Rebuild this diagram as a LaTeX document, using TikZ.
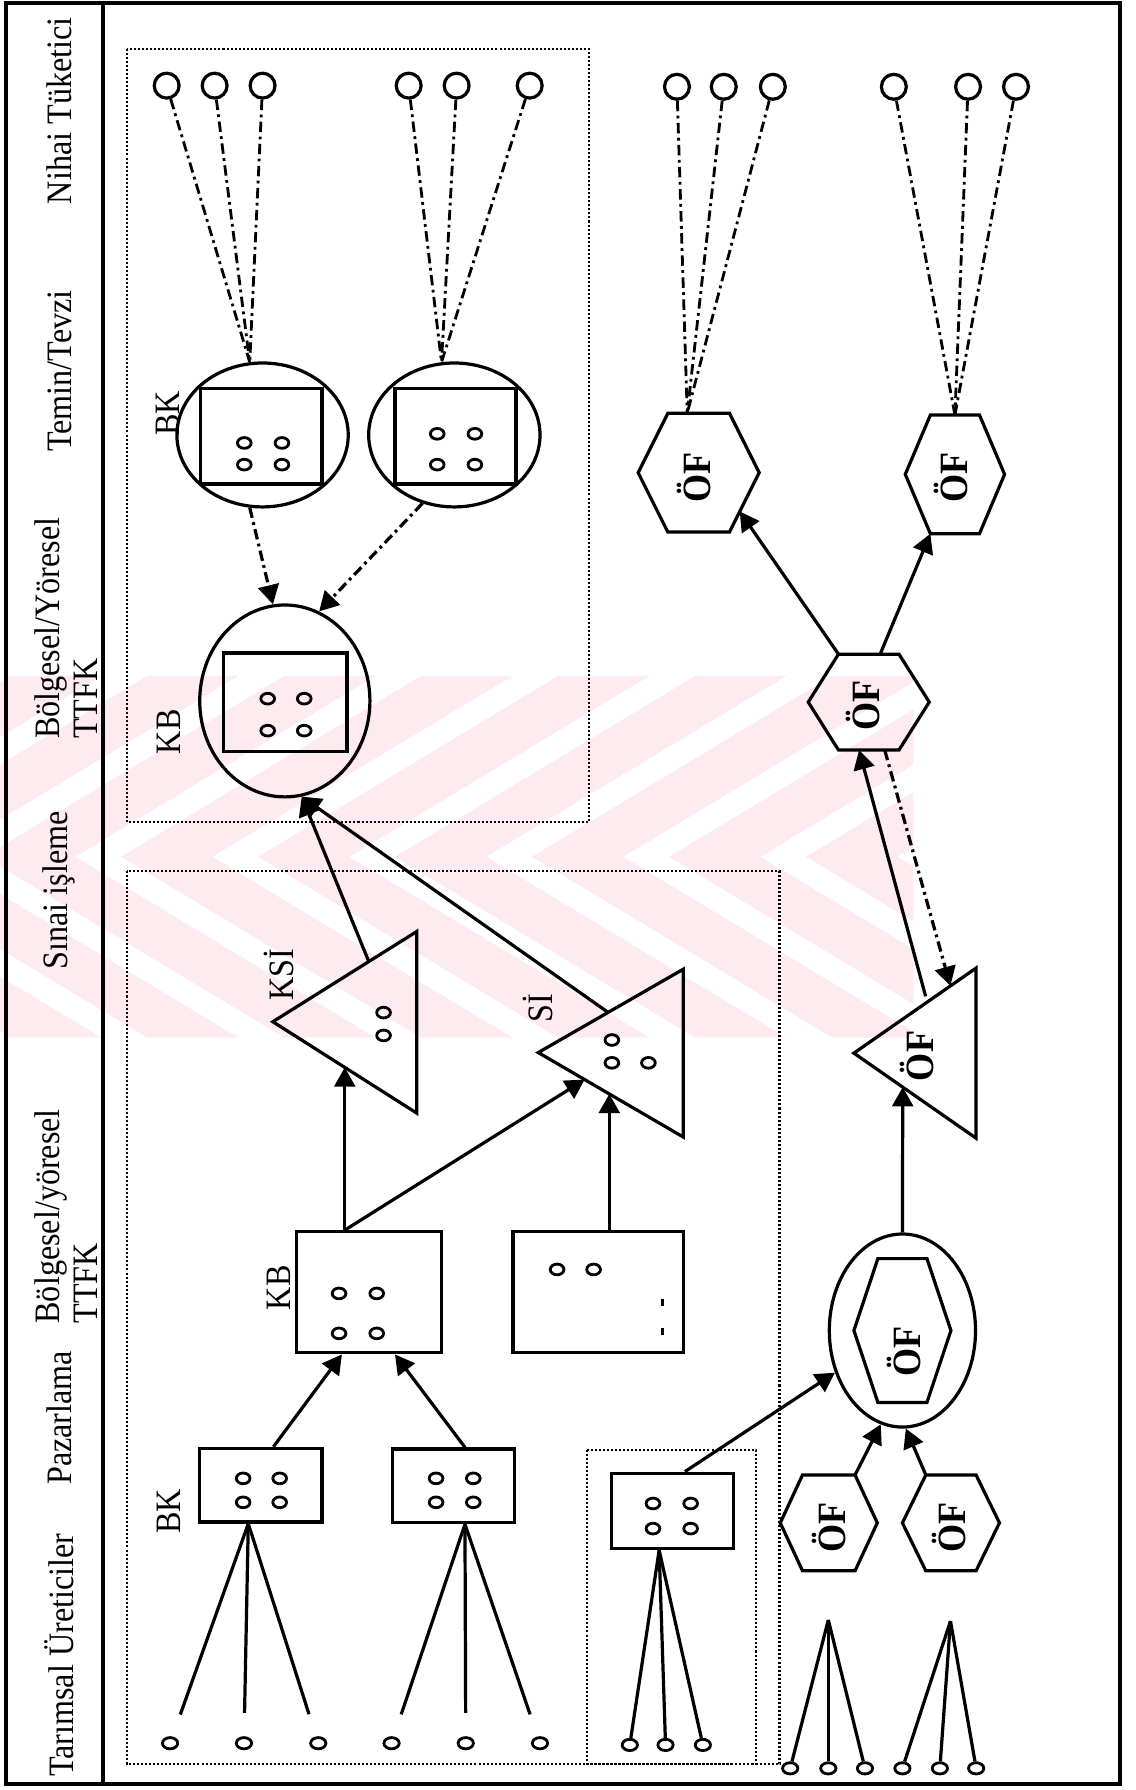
\documentclass[tikz,border=0pt]{standalone}
\usepackage{fontspec}
\setmainfont[FakeStretch=0.9]{Liberation Serif}
\usepackage{tikz}
\usetikzlibrary{shapes,arrows.meta,positioning,calc}

\definecolor{wmpink}{RGB}{253,235,239}

\tikzset{
  frame/.style={line width=1pt},
  group/.style={draw, line width=0.6pt, dash pattern=on 0.5pt off 0.5pt},
  unit/.style={draw, line width=0.8pt, inner sep=0},
  outline/.style={line width=0.8pt},
  pip/.style={draw, ellipse, line width=0.7pt, minimum width=3.8pt, minimum height=2.8pt, inner sep=0},
  pipmark/.style={line width=0.7pt},
  consumer/.style={draw, circle, line width=0.8pt, minimum size=6.2pt, inner sep=0},
  flow/.style={line width=0.8pt, -{Triangle[length=4.8pt,width=5.2pt]}},
  dashdot/.style={dash pattern=on 2.6pt off 1.1pt on 0.7pt off 1.1pt},
  supply/.style={line width=0.7pt, dashdot},
  feed/.style={line width=0.8pt},
  colhead/.style={rotate=90, inner sep=0, font=\fontsize{8.9}{9.3}\selectfont},
  lbl/.style={rotate=90, inner sep=0, font=\fontsize{8.9}{9.3}\selectfont},
  oflbl/.style={rotate=90, inner sep=0, font=\fontsize{10}{11}\selectfont\bfseries},
}

\begin{document}
\begin{tikzpicture}[x=0.01cm, y=-0.01cm]
\useasboundingbox (0,0) rectangle (995,1568);

% faint pink chevrons behind the middle of the page
\begin{scope}
\clip (0,592) rectangle (800,909);
\foreach \a in {-254,-134,...,706} {
  \fill[wmpink] (\a,750.5) -- ++(263,-158.5) -- ++(80,0) -- ++(-263,158.5)
    -- ++(263,158.5) -- ++(-80,0) -- cycle;
}
\end{scope}

% page frame with the stage column on the left
\draw[frame] (5,3) rectangle (981,1563);
\draw[frame] (90.5,3) -- (90.5,1563);

\node[colhead] (hNT) at (52,97) {Nihai Tüketici};
\node[colhead] (hTT) at (52,325) {Temin/Tevzi};
\node[colhead, align=left, anchor=west] (hBY) at (58,648) {Bölgesel/Yöresel\\TTFK};
\node[colhead] (hSI) at (52,780) {Sınai işleme};
\node[colhead, align=left, anchor=west] (hBy) at (58,1160) {Bölgesel/yöresel\\TTFK};
\node[colhead] (hPZ) at (52,1242) {Pazarlama};
\node[colhead] (hTU) at (52,1450) {Tarımsal Üreticiler};

% dotted groupings
\draw[group] (111,43) rectangle (516,720);
\draw[group] (111,763) rectangle (683,1545);
\draw[group] (514,1270) rectangle (662,1545);

%============ consumers
\node[consumer] (c1) at (146,75) {};
\node[consumer] (c2) at (188,75) {};
\node[consumer] (c3) at (230,75) {};
\node[consumer] (c4) at (358,75) {};
\node[consumer] (c5) at (400,75) {};
\node[consumer] (c6) at (464,75) {};
\node[consumer] (c7) at (593,76) {};
\node[consumer] (c8) at (634,76) {};
\node[consumer] (c9) at (677,76) {};
\node[consumer] (c10) at (783,76) {};
\node[consumer] (c11) at (848,76) {};
\node[consumer] (c12) at (890,76) {};

%============ BK -> KB (upper box)
\node[unit, ellipse, minimum width=1.5cm, minimum height=1.26cm] (bk1) at (230,381) {};
\node[unit, minimum width=1.06cm, minimum height=0.84cm] (bk1r) at (229,382) {};
\node[unit, ellipse, minimum width=1.5cm, minimum height=1.26cm] (bk2) at (398,381) {};
\node[unit, minimum width=1.06cm, minimum height=0.84cm] (bk2r) at (399,382) {};
\node[unit, ellipse, minimum width=1.49cm, minimum height=1.68cm] (kb) at (249.5,614) {};
\node[unit, minimum width=1.08cm, minimum height=0.86cm] (kbr) at (250,615) {};
\node[lbl] (lBK1) at (147,362) {BK};
\node[lbl] (lKB1) at (147.5,641) {KB};

\draw[pipmark] (214,388) circle [x radius=6, y radius=4.7];
\draw[pipmark] (247,388) circle [x radius=6, y radius=4.7];
\draw[pipmark] (214,407) circle [x radius=6, y radius=4.7];
\draw[pipmark] (247,407) circle [x radius=6, y radius=4.7];
\draw[pipmark] (383,380) circle [x radius=6, y radius=4.7];
\draw[pipmark] (416,380) circle [x radius=6, y radius=4.7];
\draw[pipmark] (383,407) circle [x radius=6, y radius=4.7];
\draw[pipmark] (416,407) circle [x radius=6, y radius=4.7];
\draw[pipmark] (234.5,612) circle [x radius=6, y radius=4.7];
\draw[pipmark] (266.5,612) circle [x radius=6, y radius=4.7];
\draw[pipmark] (234.5,640) circle [x radius=6, y radius=4.7];
\draw[pipmark] (266.5,640) circle [x radius=6, y radius=4.7];

\draw[supply] (c1) -- (bk1.100);
\draw[supply] (c2) -- (bk1.100);
\draw[supply] (c3) -- (bk1.100);
\draw[supply] (c4) -- (bk2.100);
\draw[supply] (c5) -- (bk2.100);
\draw[supply] (c6) -- (bk2.100);
\draw[flow, dashdot] (bk1.-100) -- (kb.97);
\draw[flow, dashdot] (bk2.-115) -- (kb.69);

%============ processing (lower left box)
\coordinate (ksiA) at (239,895);
\coordinate (ksiT) at (365,816);
\coordinate (ksiB) at (365,975);
\draw[outline] (ksiA) -- (ksiT) -- (ksiB) -- cycle;
\node[lbl] (lKSI) at (244,854) {KSİ};
\draw[pipmark] (336,887) circle [x radius=6, y radius=4.7];
\draw[pipmark] (336,907) circle [x radius=6, y radius=4.7];

\coordinate (siA) at (471.5,922);
\coordinate (siT) at (598.5,849);
\coordinate (siB) at (598.5,996);
\draw[outline] (siA) -- (siT) -- (siB) -- cycle;
\node[lbl] (lSI) at (471,883) {Sİ};
\draw[pipmark] (536,911) circle [x radius=6, y radius=4.7];
\draw[pipmark] (536,931) circle [x radius=6, y radius=4.7];
\draw[pipmark] (568,931) circle [x radius=6, y radius=4.7];

\node[unit, minimum width=1.27cm, minimum height=1.06cm] (kbp) at (323.5,1132) {};
\node[lbl] (lKB2) at (244,1128) {KB};
\draw[pipmark] (297,1133) circle [x radius=6, y radius=4.7];
\draw[pipmark] (330,1133) circle [x radius=6, y radius=4.7];
\draw[pipmark] (297,1168) circle [x radius=6, y radius=4.7];
\draw[pipmark] (330,1168) circle [x radius=6, y radius=4.7];

\node[unit, minimum width=1.49cm, minimum height=1.06cm] (sip) at (524,1132) {};
\draw[pipmark] (488,1112) circle [x radius=6, y radius=4.7];
\draw[pipmark] (520,1112) circle [x radius=6, y radius=4.7];
\draw[pipmark] (580,1138) -- (580,1144);
\draw[pipmark] (580,1163) -- (580,1169);

\node[unit, minimum width=1.07cm, minimum height=0.645cm] (bkp1) at (228.5,1301) {};
\node[unit, minimum width=1.07cm, minimum height=0.645cm] (bkp2) at (397.3,1301.5) {};
\node[unit, minimum width=1.07cm, minimum height=0.66cm] (bkp3) at (589,1323.5) {};
\node[lbl] (lBK2) at (147.5,1324) {BK};
\draw[pipmark] (213,1295) circle [x radius=6, y radius=4.7];
\draw[pipmark] (245,1295) circle [x radius=6, y radius=4.7];
\draw[pipmark] (213,1316) circle [x radius=6, y radius=4.7];
\draw[pipmark] (245,1316) circle [x radius=6, y radius=4.7];
\draw[pipmark] (382,1295) circle [x radius=6, y radius=4.7];
\draw[pipmark] (414.6,1295) circle [x radius=6, y radius=4.7];
\draw[pipmark] (382,1316) circle [x radius=6, y radius=4.7];
\draw[pipmark] (414.6,1316) circle [x radius=6, y radius=4.7];
\draw[pipmark] (572,1317) circle [x radius=6, y radius=4.7];
\draw[pipmark] (605,1317) circle [x radius=6, y radius=4.7];
\draw[pipmark] (572,1339) circle [x radius=6, y radius=4.7];
\draw[pipmark] (605,1339) circle [x radius=6, y radius=4.7];

% attach points
\coordinate (ksi-in) at ($(ksiA)!0.5!(ksiB)$);
\coordinate (ksi-out) at ($(ksiA)!0.667!(ksiT)$);
\coordinate (si-in1) at ($(siA)!0.32!(siB)$);
\coordinate (si-in2) at ($(siA)!0.49!(siB)$);
\coordinate (si-out) at ($(siA)!0.482!(siT)$);
\coordinate (bkp1-up) at ($(bkp1.north)+(11,0)$);
\coordinate (bkp2-up) at ($(bkp2.north)+(10,0)$);
\coordinate (kbp-in1) at ($(kbp.south)+(-24,0)$);
\coordinate (kbp-in2) at ($(kbp.south)+(22.5,0)$);
\coordinate (bkp1-dn) at ($(bkp1.south)+(-11,0)$);
\coordinate (bkp2-dn) at ($(bkp2.south)+(10,0)$);
\coordinate (bkp3-dn) at ($(bkp3.south)+(-11.6,0)$);
\coordinate (bkp3-up) at ($(bkp3.north)+(11,0)$);

\draw[flow] (bkp1-up) -- (kbp-in1);
\draw[flow] (bkp2-up) -- (kbp-in2);
\draw[flow] (kbp.north -| ksi-in) -- (ksi-in);
\draw[flow] (kbp.north -| ksi-in) -- (si-in1);
\draw[flow] (sip.north -| si-in2) -- (si-in2);
\draw[flow] (ksi-out) -- (kb.-80);
\draw[flow] (si-out) -- (kb.-80);

%============ producers
\node[pip] (p1) at (149,1527) {};
\node[pip] (p2) at (213.7,1527) {};
\node[pip] (p3) at (278.8,1527) {};
\node[pip] (p4) at (343,1527) {};
\node[pip] (p5) at (408,1527) {};
\node[pip] (p6) at (473,1527) {};
\node[pip] (p7) at (551.7,1528.5) {};
\node[pip] (p8) at (583,1528.5) {};
\node[pip] (p9) at (615.7,1528.5) {};
\node[pip] (p10) at (692.2,1549) {};
\node[pip] (p11) at (725.6,1549) {};
\node[pip] (p12) at (757.7,1549) {};
\node[pip] (p13) at (790.5,1549) {};
\node[pip] (p14) at (823.3,1549) {};
\node[pip] (p15) at (855.1,1549) {};

\draw[feed, shorten >=5.8pt] (bkp1-dn) -- (p1);
\draw[feed, shorten >=5.8pt] (bkp1-dn) -- (p2);
\draw[feed, shorten >=5.8pt] (bkp1-dn) -- (p3);
\draw[feed, shorten >=5.8pt] (bkp2-dn) -- (p4);
\draw[feed, shorten >=5.8pt] (bkp2-dn) -- (p5);
\draw[feed, shorten >=5.8pt] (bkp2-dn) -- (p6);
\draw[feed] (bkp3-dn) -- (p7);
\draw[feed] (bkp3-dn) -- (p8);
\draw[feed] (bkp3-dn) -- (p9);

%============ retail chain (right side)
\coordinate (hexA) at (612,414);
\coordinate (hexB) at (836.5,415.5);
\coordinate (hexM) at (761,615);
\draw[outline] (hexA) ++(-53,0) -- ++(26,-52) -- ++(54,0) -- ++(26,52) -- ++(-26,52) -- ++(-54,0) -- cycle;
\draw[outline] (hexB) ++(-43.5,0) -- ++(22,-52) -- ++(43,0) -- ++(22,52) -- ++(-22,52) -- ++(-43,0) -- cycle;
\draw[outline] (hexM) ++(-53,0) -- ++(26.5,-42) -- ++(53,0) -- ++(26.5,42) -- ++(-26.5,42) -- ++(-53,0) -- cycle;
\node[oflbl] (ofA) at (608,418) {ÖF};
\node[oflbl] (ofB) at (833,418) {ÖF};
\node[oflbl] (ofM) at (756,618) {ÖF};

\coordinate (oftA) at (748,922.5);
\coordinate (oftT) at (855,848);
\coordinate (oftB) at (855,997);
\draw[outline] (oftA) -- (oftT) -- (oftB) -- cycle;
\node[oflbl] (ofT) at (803.5,925) {ÖF};

\node[unit, ellipse, minimum width=1.28cm, minimum height=1.69cm] (ofe) at (790.5,1165.5) {};
\draw[outline] (ofe.center) ++(-42.5,0) -- ++(21,-63) -- ++(43,0) -- ++(21,63) -- ++(-21,63) -- ++(-43,0) -- cycle;
\node[oflbl] (ofE) at (792,1184) {ÖF};

\coordinate (hexP) at (726,1334);
\coordinate (hexQ) at (833,1334);
\draw[outline] (hexP) ++(-42.5,0) -- ++(19.5,-42) -- ++(46,0) -- ++(19.5,42) -- ++(-19.5,42) -- ++(-46,0) -- cycle;
\draw[outline] (hexQ) ++(-42.5,0) -- ++(20.5,-42) -- ++(44,0) -- ++(20.5,42) -- ++(-20.5,42) -- ++(-44,0) -- cycle;
\node[oflbl] (ofP) at (726,1338) {ÖF};
\node[oflbl] (ofQ) at (831,1338) {ÖF};

% attach points
\coordinate (hexA-top) at ($(hexA)+(-10,-52)$);
\coordinate (hexB-top) at ($(hexB)+(0,-52)$);
\coordinate (hexA-in) at ($(hexA)+(36,34)$);
\coordinate (hexB-in) at ($(hexB)+(-21.5,52)$);
\coordinate (hexM-out1) at ($(hexM)+(-26.5,-42)$);
\coordinate (hexM-out2) at ($(hexM)+(10,-42)$);
\coordinate (hexM-in) at ($(hexM)+(-8.5,42)$);
\coordinate (hexM-back) at ($(hexM)+(14,42)$);
\coordinate (oft-out) at ($(oftA)!0.6!(oftT)$);
\coordinate (oft-back) at ($(oftA)!0.79!(oftT)$);
\coordinate (oft-in) at ($(oftA)!0.4!(oftB)$);
\coordinate (hexP-up) at ($(hexP)+(23,-42)$);
\coordinate (hexQ-up) at ($(hexQ)+(-22,-42)$);
\coordinate (fanP) at (725.6,1419);
\coordinate (fanQ) at (832.6,1420);

\draw[supply] (c7) -- (hexA-top);
\draw[supply] (c8) -- (hexA-top);
\draw[supply] (c9) -- (hexA-top);
\draw[supply] (c10) -- (hexB-top);
\draw[supply] (c11) -- (hexB-top);
\draw[supply] (c12) -- (hexB-top);

\draw[flow] (hexM-out1) -- (hexA-in);
\draw[flow] (hexM-out2) -- (hexB-in);
\draw[flow, shorten <=1.5pt] (oft-out) -- (hexM-in);
\draw[flow, dashdot] (hexM-back) -- (oft-back);
\draw[flow] (ofe.north) -- (oft-in);
\draw[flow] (bkp3-up) -- (ofe.-148);
\draw[flow] (hexP-up) -- (ofe.-103);
\draw[flow] (hexQ-up) -- (ofe.-88);

\draw[feed] (fanP) -- (p10);
\draw[feed] (fanP) -- (p11);
\draw[feed] (fanP) -- (p12);
\draw[feed] (fanQ) -- (p13);
\draw[feed] (fanQ) -- (p14);
\draw[feed] (fanQ) -- (p15);

\end{tikzpicture}
\end{document}
